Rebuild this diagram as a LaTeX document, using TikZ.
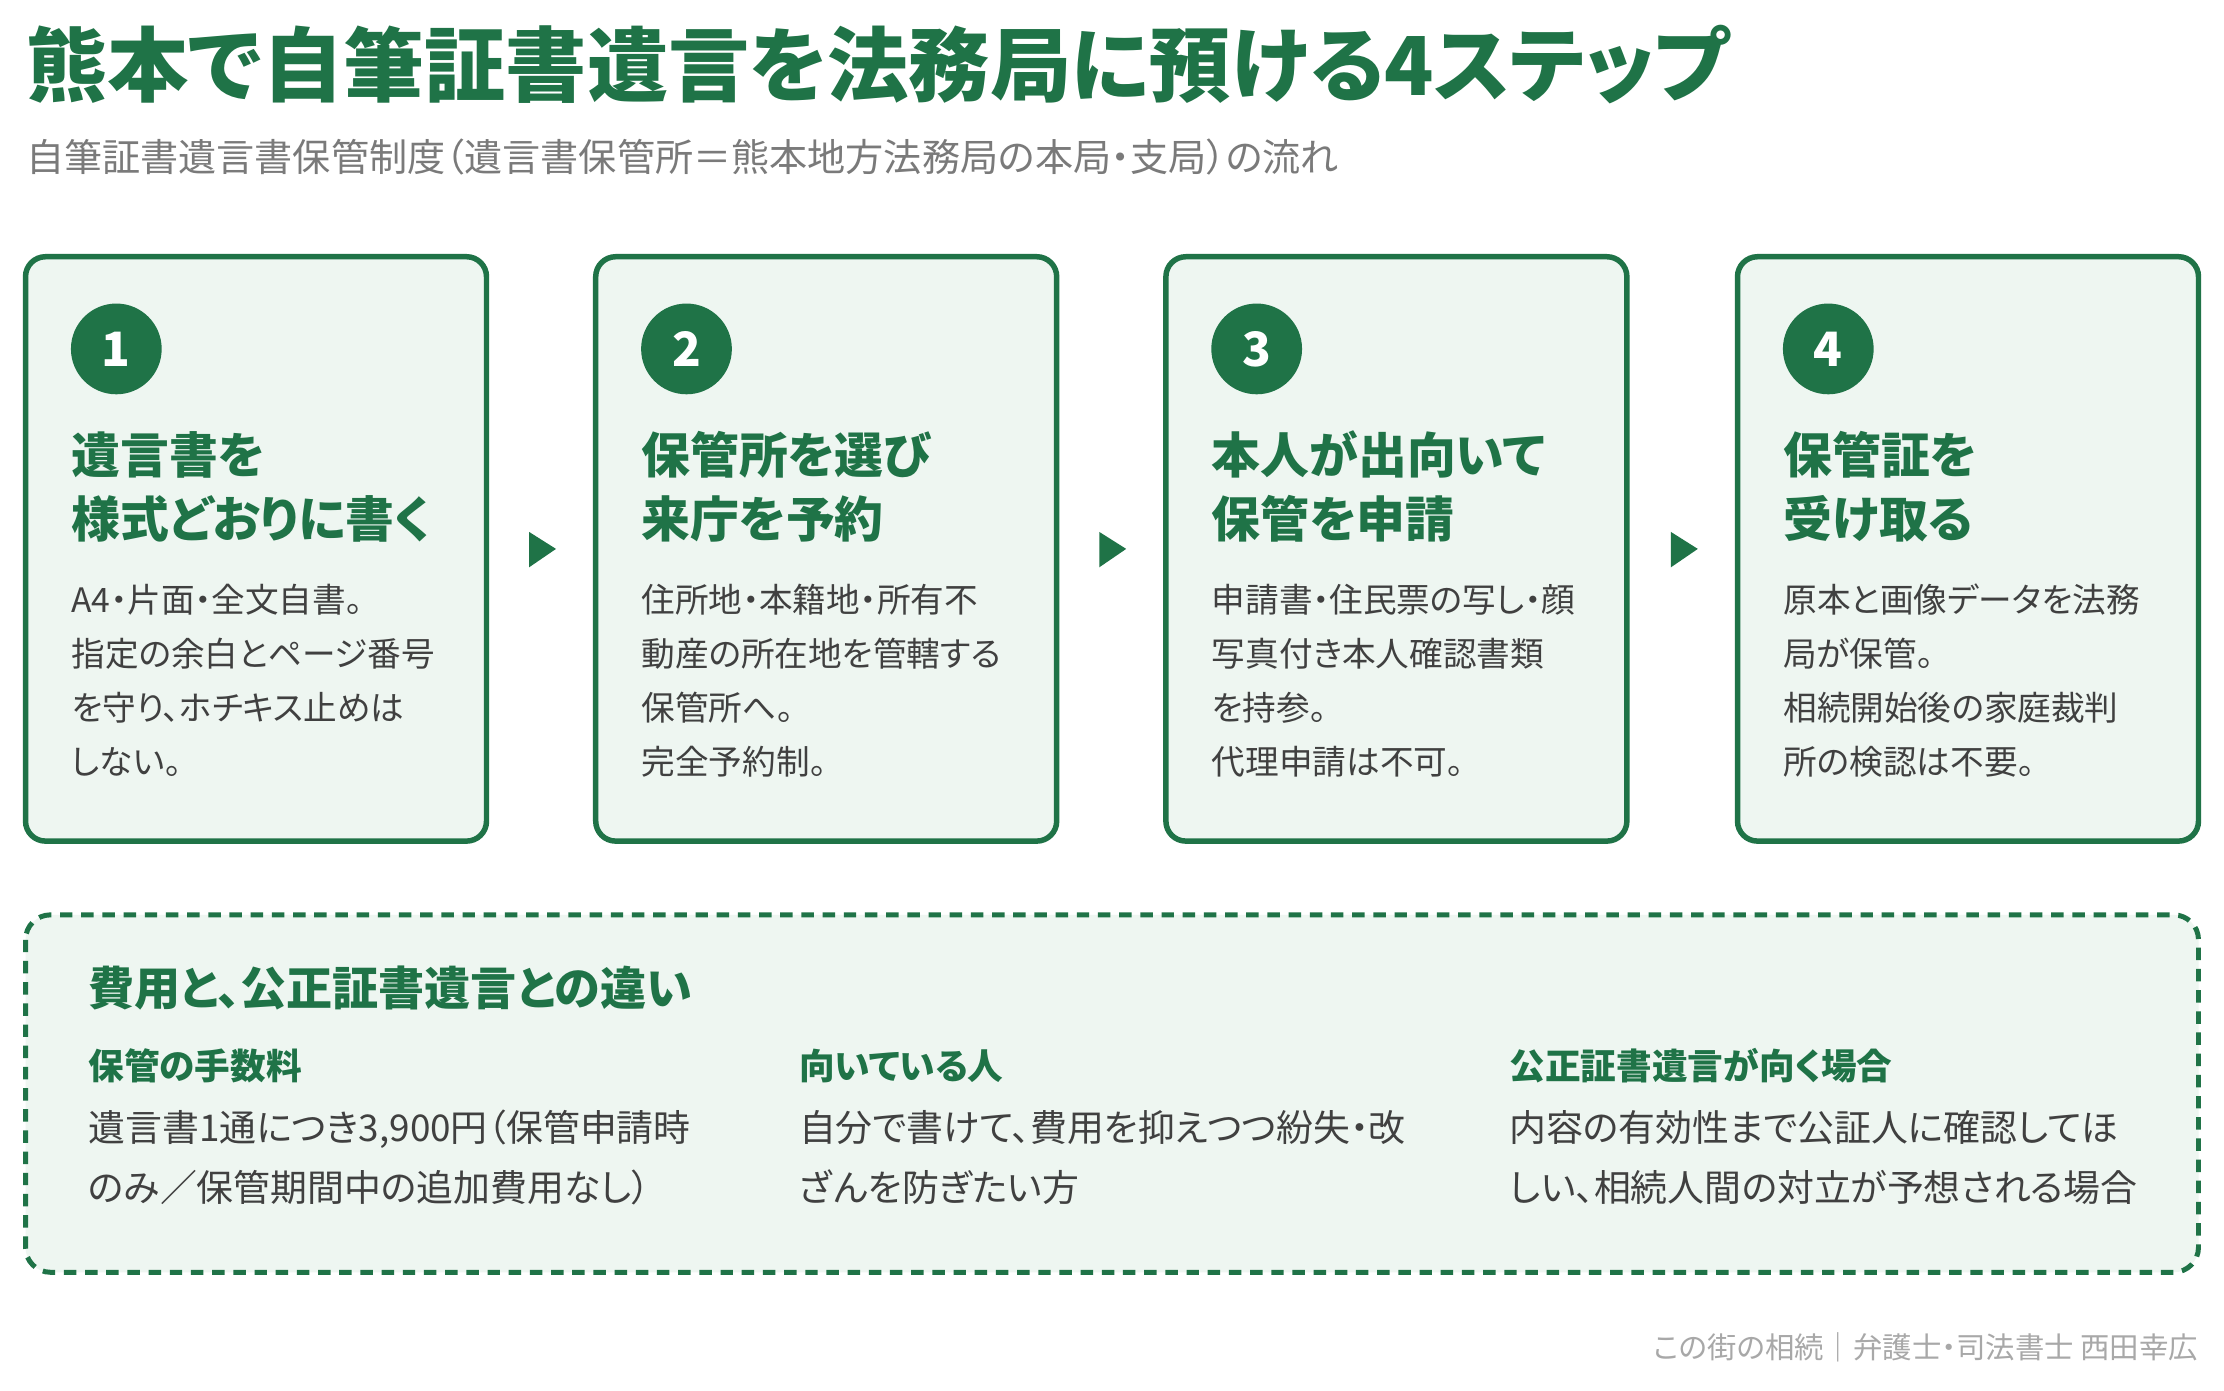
\documentclass[tikz,border=0pt]{standalone}
\usepackage{fontspec}
\setmainfont{Noto Sans CJK JP}[RawFeature=+palt]
\usetikzlibrary{positioning, arrows.meta}
\definecolor{kgreen}{HTML}{1F7347}
\definecolor{kfill}{HTML}{EEF6F1}
\definecolor{ktext}{HTML}{404040}
\definecolor{kgray}{HTML}{7A7A7A}
\definecolor{kfoot}{HTML}{A8A8A8}
\tikzset{
  card/.style={draw=kgreen,fill=kfill,line width=2.2pt,rounded corners=8pt},
  num/.style={circle,fill=kgreen,text=white,minimum size=1.28cm,inner sep=0pt,font=\fontsize{19}{19}\selectfont\bfseries},
  head/.style={anchor=base west,inner sep=0pt,text=kgreen,font=\fontsize{19.6}{19.6}\selectfont\bfseries},
  body/.style={anchor=base west,inner sep=0pt,text=ktext,font=\fontsize{13.5}{13.5}\selectfont},
  steparrow/.style={fill=kgreen,draw=none},
  colhead/.style={anchor=base west,inner sep=0pt,text=kgreen,font=\fontsize{14.3}{14.3}\selectfont\bfseries},
  colbody/.style={anchor=base west,inner sep=0pt,text=ktext,font=\fontsize{14.8}{14.8}\selectfont},
}
\begin{document}
\begin{tikzpicture}[x=0.02cm,y=-0.02cm]
    \useasboundingbox (0,0) rectangle (1568,980);
    \fill[white] (0,0) rectangle (1568,980);
    % Titolo
    \node[anchor=base west,inner sep=0pt,text=kgreen,font=\fontsize{32.6}{32.6}\selectfont\bfseries] (title) at (18,67) {熊本で自筆証書遺言を法務局に預ける4ステップ};
    \node[anchor=base west,inner sep=0pt,text=kgray,font=\fontsize{15.3}{15.3}\selectfont] (subtitle) at (18,121) {自筆証書遺言書保管制度（遺言書保管所＝熊本地方法務局の本局・支局）の流れ};
    % Schede
    \foreach \x/\n in {18/1,420/2,822/3,1225/4}{
      \draw[card] (\x,181) rectangle ++(325,412);
      \node[num] (num\n) at (\x+64,246) {\n};
    }
    \node[head] (h1a) at (50,334) {遺言書を};
    \node[head] (h1b) at (50,379) {様式どおりに書く};
    \node[body] (b1a) at (50,432) {A4・片面・全文自書。};
    \node[body] (b1b) at (50,470) {指定の余白とページ番号};
    \node[body] (b1c) at (50,508) {を守り、ホチキス止めは};
    \node[body] (b1d) at (50,546) {しない。};
    \node[head] (h2a) at (452,334) {保管所を選び};
    \node[head] (h2b) at (452,379) {来庁を予約};
    \node[body] (b2a) at (452,432) {住所地・本籍地・所有不};
    \node[body] (b2b) at (452,470) {動産の所在地を管轄する};
    \node[body] (b2c) at (452,508) {保管所へ。};
    \node[body] (b2d) at (452,546) {完全予約制。};
    \node[head] (h3a) at (854,334) {本人が出向いて};
    \node[head] (h3b) at (854,379) {保管を申請};
    \node[body] (b3a) at (854,432) {申請書・住民票の写し・顔};
    \node[body] (b3b) at (854,470) {写真付き本人確認書類};
    \node[body] (b3c) at (854,508) {を持参。};
    \node[body] (b3d) at (854,546) {代理申請は不可。};
    \node[head] (h4a) at (1257,334) {保管証を};
    \node[head] (h4b) at (1257,379) {受け取る};
    \node[body] (b4a) at (1257,432) {原本と画像データを法務};
    \node[body] (b4b) at (1257,470) {局が保管。};
    \node[body] (b4c) at (1257,508) {相続開始後の家庭裁判};
    \node[body] (b4d) at (1257,546) {所の検認は不要。};
    % Frecce
    \foreach \x in {373,775,1178}
      \fill[steparrow] (\x,375) -- (\x+19,387) -- (\x,400) -- cycle;
    % Riquadro costi
    \draw[kgreen,fill=kfill,line width=2pt,dash pattern=on 5pt off 3.5pt,rounded corners=10pt] (18,645) rectangle (1550,897);
    \node[anchor=base west,inner sep=0pt,text=kgreen,font=\fontsize{18.5}{18.5}\selectfont\bfseries] (cost) at (62,709) {費用と、公正証書遺言との違い};
    \node[colhead] (c1) at (62,761) {保管の手数料};
    \node[colbody] (c1a) at (62,805) {遺言書1通につき3,900円（保管申請時};
    \node[colbody] (c1b) at (62,847) {のみ／保管期間中の追加費用なし）};
    \node[colhead] (c2) at (563,761) {向いている人};
    \node[colbody] (c2a) at (563,805) {自分で書けて、費用を抑えつつ紛失・改};
    \node[colbody] (c2b) at (563,847) {ざんを防ぎたい方};
    \node[colhead] (c3) at (1064,761) {公正証書遺言が向く場合};
    \node[colbody] (c3a) at (1064,805) {内容の有効性まで公証人に確認してほ};
    \node[colbody] (c3b) at (1064,847) {しい、相続人間の対立が予想される場合};
    % Piede
    \node[anchor=base east,inner sep=0pt,text=kfoot,font=\fontsize{11.8}{11.8}\selectfont] (foot) at (1550,958) {この街の相続｜弁護士・司法書士 西田幸広};
\end{tikzpicture}
\end{document}
